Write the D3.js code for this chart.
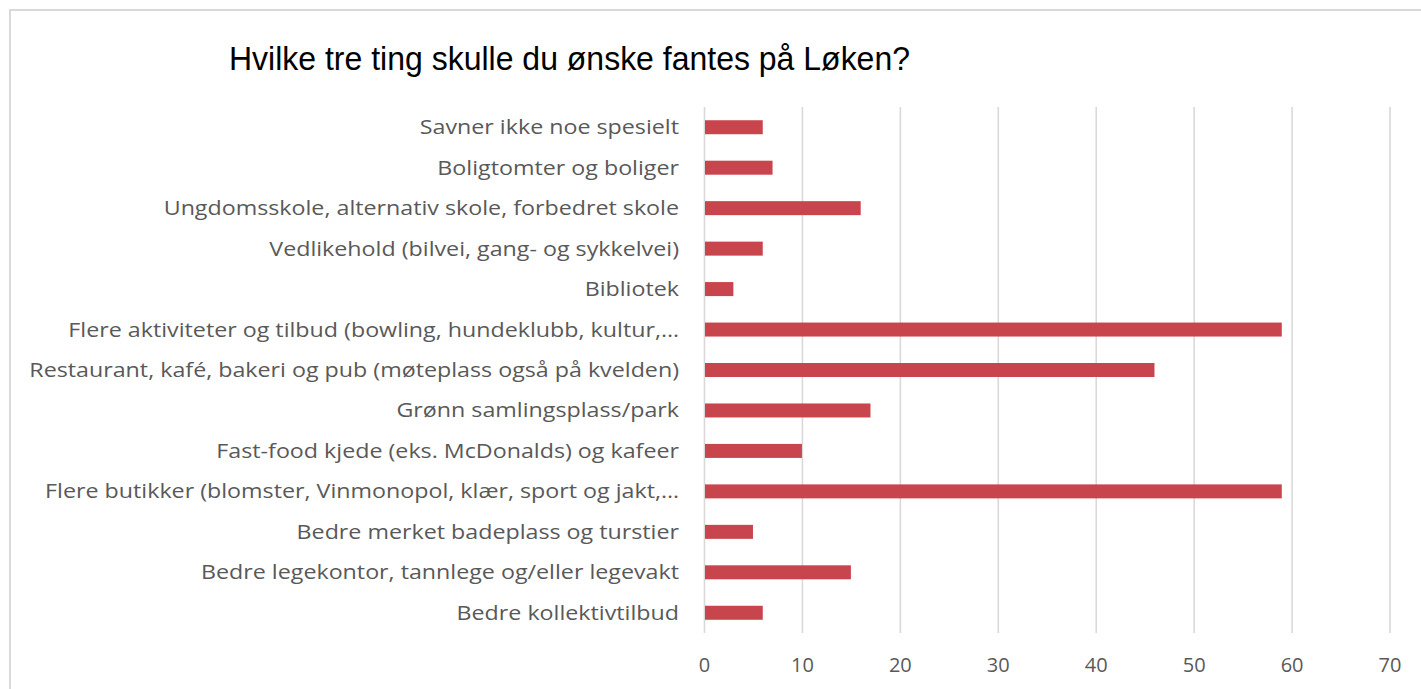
<!DOCTYPE html>
<html>
<head>
    <meta charset="utf-8">
    <title>Hvilke tre ting skulle du ønske fantes på Løken?</title>
    <script src="https://cdn.jsdelivr.net/npm/d3@7"></script>
    <style>
        body { margin: 0; background: #fff; }
    </style>
</head>
<body>
<div id="chart"></div>
<script type="text/javascript">
    var title = "Hvilke tre ting skulle du ønske fantes på Løken?";

    // categories, top to bottom as in the chart
    var categories = [
        "Savner ikke noe spesielt",
        "Boligtomter og boliger",
        "Ungdomsskole, alternativ skole, forbedret skole",
        "Vedlikehold (bilvei, gang- og sykkelvei)",
        "Bibliotek",
        "Flere aktiviteter og tilbud (bowling, hundeklubb, kultur,…",
        "Restaurant, kafé, bakeri og pub (møteplass også på kvelden)",
        "Grønn samlingsplass/park",
        "Fast-food kjede (eks. McDonalds) og kafeer",
        "Flere butikker (blomster, Vinmonopol, klær, sport og jakt,…",
        "Bedre merket badeplass og turstier",
        "Bedre legekontor, tannlege og/eller legevakt",
        "Bedre kollektivtilbud"
    ];
    var counts = [6, 7, 16, 6, 3, 59, 46, 17, 10, 59, 5, 15, 6];
    var xTicks = [0, 10, 20, 30, 40, 50, 60, 70];

    doD3();

    function doD3() {
        var svg = createCanvas();
        drawFrame(svg);
        drawTitle(svg);
        drawBars(svg);
    }

    function createCanvas() {
        return d3.select("#chart").append("svg")
            .attr("width", 1421)
            .attr("height", 689);
    }

    function drawFrame(svg) {
        svg.append("rect")
            .attr("x", 10).attr("y", 10)
            .attr("width", 1500).attr("height", 800)
            .style("fill", "#fff")
            .style("stroke", "#d9d9d9")
            .style("stroke-width", 2);
    }

    function drawTitle(svg) {
        var t = svg.append("text")
            .attr("x", 229).attr("y", 70)
            .style("font-family", "'Liberation Sans', Arial, sans-serif")
            .style("font-size", "33.5px")
            .style("fill", "#000")
            .text(title);
        var w = t.node().getComputedTextLength();
        t.attr("textLength", 681).attr("lengthAdjust", "spacingAndGlyphs");
    }

    function drawBars(svg) {
        var top = 107, bottom = 633;
        var x = d3.scaleLinear().domain([0, 70]).range([704, 1389.5]);
        var y = d3.scaleBand().domain(categories).range([top, bottom])
            .paddingInner(0.654).paddingOuter(0.327);

        // gridlines + tick labels
        var axis = svg.append("g")
            .attr("transform", "translate(0," + bottom + ")")
            .call(d3.axisBottom(x).tickValues(xTicks).tickFormat(d3.format("d"))
                .tickSize(-(bottom - top)).tickPadding(25));
        axis.select(".domain").remove();
        axis.selectAll(".tick line")
            .style("stroke", "#d9d9d9")
            .style("stroke-width", 1.6);
        axis.selectAll(".tick text")
            .style("font-family", "'Open Sans', sans-serif")
            .style("font-size", "20px")
            .style("fill", "#595959");

        svg.selectAll(".bar")
            .data(counts)
          .enter().append("rect")
            .attr("class", "bar")
            .attr("x", x(0) + 1)
            .attr("y", function(d, i) { return y(categories[i]); })
            .attr("width", function(d) { return x(d) - x(0) - 1; })
            .attr("height", y.bandwidth())
            .style("fill", "#c9454d");

        // category labels, squeezed a little to match the narrower original font
        var labels = svg.selectAll(".cat")
            .data(categories)
          .enter().append("text")
            .attr("class", "cat")
            .attr("text-anchor", "end")
            .attr("dy", "0.35em")
            .style("font-family", "'Open Sans', sans-serif")
            .style("font-size", "20px")
            .style("fill", "#595959")
            .text(function(d) { return d; });

        var ref = labels.filter(function(d, i) { return i === 6; }).node().getComputedTextLength();
        var k = (679 - 29) / ref;
        labels.attr("transform", function(d) {
            return "translate(679," + (y(d) + y.bandwidth() / 2) + ") scale(" + k + ",1)";
        });
    }
</script>
</body>
</html>
